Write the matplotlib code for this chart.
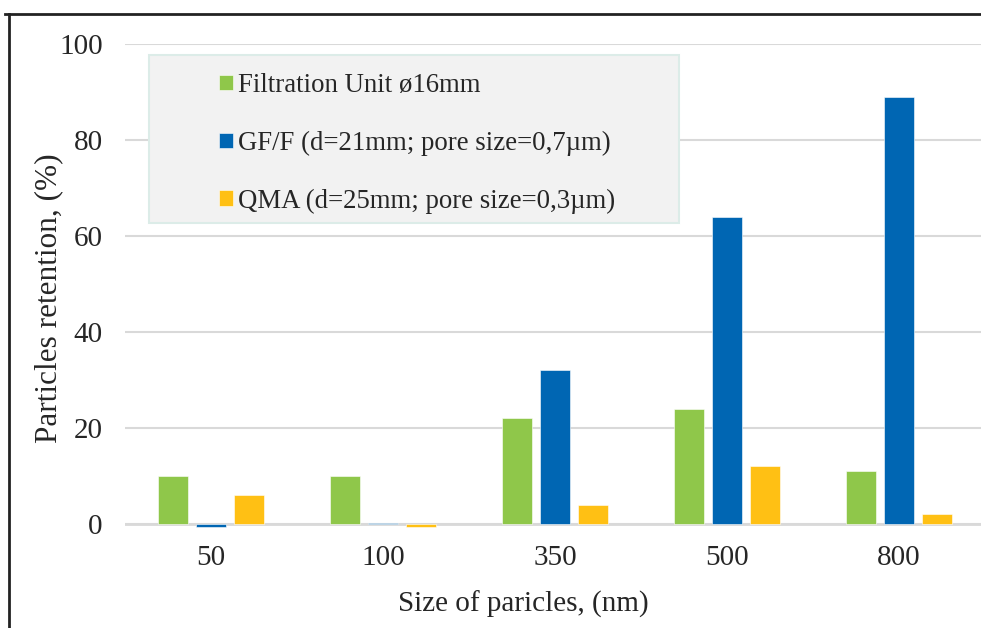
import numpy as np
import matplotlib
matplotlib.use("Agg")
import matplotlib.pyplot as plt
from matplotlib.patches import Rectangle
from matplotlib.lines import Line2D

sizes = ["50", "100", "350", "500", "800"]
filtration_unit = [10, 10, 22, 24, 11]
gff = [-0.6, 0.2, 32, 64, 89]
qma = [6, -0.6, 4, 12, 2]

series = [
    ("Filtration Unit ø16mm", filtration_unit, "#8FC74A"),
    ("GF/F (d=21mm; pore size=0,7µm)", gff, "#0066B3"),
    ("QMA (d=25mm; pore size=0,3µm)", qma, "#FFC014"),
]

plt.rcParams["font.family"] = ["Liberation Serif", "DejaVu Serif"]
TXT = "#262626"
FS = 21

W, H = 981, 628
fig = plt.figure(figsize=(W / 100, H / 100), dpi=100)
# plot area in pixels: x 125..985, y(0)=524, y(100)=44
ymin, ymax = -1.5, 100
px_per = (524 - 44) / 100
bottom_px = 524 + (-ymin) * px_per
ax_h = bottom_px - 44
ax = fig.add_axes([125 / W, 1 - bottom_px / H, 860 / W, ax_h / H])

x = np.arange(len(sizes))
bw = 0.175
offs = [-0.221, 0, 0.221]
for (lab, vals, col), o in zip(series, offs):
    ax.bar(x + o, vals, bw, color=col, label=lab, edgecolor="white", linewidth=0.4, zorder=3)

ax.set_xlim(-0.5, len(sizes) - 0.5)
ax.set_ylim(ymin, ymax)
ax.set_yticks([0, 20, 40, 60, 80, 100])
ax.set_xticks(x)
ax.set_xticklabels(sizes)
ax.tick_params(length=0, labelsize=FS, colors=TXT)
ax.tick_params(axis="y", pad=16)
ax.tick_params(axis="x", pad=10)
for s in ax.spines.values():
    s.set_visible(False)
ax.grid(True, axis="y", color="#d9d9d9", lw=1.5, zorder=0)
ax.axhline(0, color="#d9d9d9", lw=2, zorder=2)

ax.set_ylabel("Particles retention, (%)", fontsize=22.5, color=TXT)
ax.yaxis.set_label_coords(-62 / 860, (bottom_px - 298) / ax_h)
fig.text(523 / W, 1 - 604 / H, "Size of paricles, (nm)", fontsize=FS, color=TXT,
         ha="center", va="center")

# legend box
ax.add_patch(Rectangle((149 / W, 1 - 223 / H), 530 / W, 168 / H,
                       transform=fig.transFigure, facecolor="#f2f2f2",
                       edgecolor="#dcece8", lw=1.5, zorder=4, clip_on=False))
leg = ax.legend(loc="upper left", bbox_to_anchor=(219 / W, 1 - 73 / H),
                bbox_transform=fig.transFigure, frameon=False, fontsize=19.3,
                handlelength=0.52, handleheight=0.52, handletextpad=0.2,
                labelspacing=1.22, borderpad=0, borderaxespad=0)
leg.set_zorder(5)
for t in leg.get_texts():
    t.set_color(TXT)

# outer frame
fig.add_artist(Line2D([5 / W, 1], [1 - 13.5 / H, 1 - 13.5 / H], transform=fig.transFigure,
                      color="#222222", lw=2))
fig.add_artist(Line2D([9 / W, 9 / W], [0, 1 - 13.5 / H], transform=fig.transFigure,
                      color="#222222", lw=2))

fig.savefig("out.png", dpi=100)
